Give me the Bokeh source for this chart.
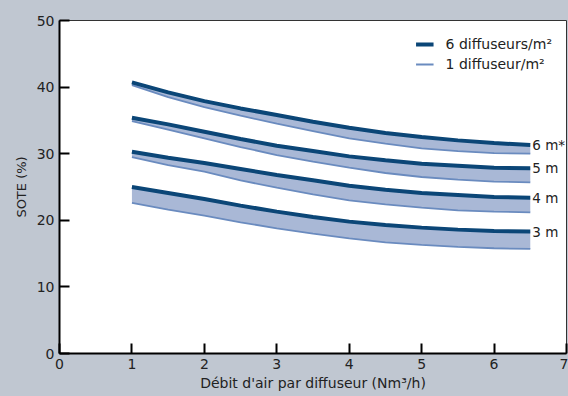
from bokeh.plotting import figure
from bokeh.models import Range1d, FixedTicker, Legend, LegendItem, ColumnDataSource
from bokeh.core.properties import value
from bokeh.embed import file_html
from bokeh.resources import INLINE

# Data
x = [1.0, 1.5, 2.0, 2.5, 3.0, 3.5, 4.0, 4.5, 5.0, 5.5, 6.0, 6.5]

depth_labels = ["6 m*", "5 m", "4 m", "3 m"]

six_per_m2 = [
    [40.7, 39.2, 37.9, 36.8, 35.8, 34.8, 33.9, 33.1, 32.5, 32.0, 31.6, 31.3],
    [35.4, 34.4, 33.3, 32.2, 31.2, 30.4, 29.6, 29.0, 28.5, 28.2, 27.9, 27.8],
    [30.3, 29.4, 28.6, 27.7, 26.8, 26.0, 25.2, 24.6, 24.1, 23.8, 23.5, 23.4],
    [25.0, 24.1, 23.2, 22.2, 21.3, 20.5, 19.8, 19.3, 18.9, 18.6, 18.4, 18.3],
]
one_per_m2 = [
    [40.3, 38.5, 37.0, 35.7, 34.5, 33.4, 32.3, 31.5, 30.8, 30.4, 30.1, 30.0],
    [34.9, 33.6, 32.3, 31.0, 29.8, 28.8, 27.9, 27.1, 26.5, 26.1, 25.8, 25.7],
    [29.5, 28.3, 27.3, 26.0, 24.9, 23.9, 23.0, 22.4, 21.9, 21.5, 21.3, 21.2],
    [22.6, 21.6, 20.7, 19.7, 18.8, 18.0, 17.3, 16.7, 16.3, 16.0, 15.8, 15.7],
]

x_ticks = [0, 1, 2, 3, 4, 5, 6, 7]
y_ticks = [0, 10, 20, 30, 40, 50]

BG = "#c0c7d1"
DARK = "#0b4677"
LIGHT = "#6a8bbf"
FILL = "#a9b8d6"
FONT = "DejaVu Sans"
TXT = "#222222"

p = figure(width=568, height=396, output_backend="svg", toolbar_location=None,
           x_range=Range1d(0, 7), y_range=Range1d(0, 50),
           min_border_left=59, min_border_right=2, min_border_top=20, min_border_bottom=43)
p.border_fill_color = BG
p.background_fill_color = "white"
p.outline_line_color = "#333333"
p.outline_line_width = 1
p.xgrid.visible = False
p.ygrid.visible = False

dark_r = None
light_r = None
for hi, lo in zip(six_per_m2, one_per_m2):
    p.varea(x=x, y1=lo, y2=hi, fill_color=FILL)
    lr = p.line(x, lo, line_color=LIGHT, line_width=1.8)
    dr = p.line(x, hi, line_color=DARK, line_width=4)
    if dark_r is None:
        dark_r, light_r = dr, lr

end_src = ColumnDataSource(dict(x=[x[-1]] * 4, y=[s[-1] for s in six_per_m2], t=depth_labels))
p.text(x="x", y="y", text="t", source=end_src, x_offset=2,
       text_font=value(FONT), text_font_size="13.5px", text_color=TXT,
       text_baseline="middle", text_align="left")

for ax in (p.xaxis[0], p.yaxis[0]):
    ax.axis_line_color = "black"
    ax.axis_line_width = 2
    ax.major_tick_line_color = "black"
    ax.major_tick_line_width = 2
    ax.major_tick_in = 10
    ax.major_tick_out = 0
    ax.minor_tick_line_color = None
    ax.major_label_text_font = FONT
    ax.major_label_text_font_size = "14px"
    ax.major_label_text_color = TXT
    ax.axis_label_text_font = FONT
    ax.axis_label_text_font_style = "normal"
    ax.axis_label_text_color = TXT

p.xaxis.ticker = FixedTicker(ticks=x_ticks)
p.yaxis.ticker = FixedTicker(ticks=y_ticks)
p.xaxis.axis_label = "Débit d'air par diffuseur (Nm³/h)"
p.yaxis.axis_label = "SOTE (%)"
p.xaxis.axis_label_text_font_size = "14px"
p.yaxis.axis_label_text_font_size = "13px"
p.xaxis.major_label_standoff = 5
p.yaxis.major_label_standoff = 5
p.xaxis.axis_label_standoff = 3
p.yaxis.axis_label_standoff = 5

legend = Legend(items=[LegendItem(label="6 diffuseurs/m²", renderers=[dark_r]),
                       LegendItem(label="1 diffuseur/m²", renderers=[light_r])],
                location="top_right")
legend.background_fill_alpha = 0
legend.border_line_alpha = 0
legend.label_text_font = FONT
legend.label_text_font_size = "14px"
legend.label_text_color = TXT
legend.glyph_width = 18
legend.glyph_height = 20
legend.label_height = 20
legend.label_standoff = 12
legend.spacing = 0
legend.padding = 6
legend.margin = 8
p.add_layout(legend)

html = file_html(p, INLINE)
html = html.replace("<head>", "<head><style>html,body{background:%s;}</style>" % BG, 1)
open("out.html", "w").write(html)
